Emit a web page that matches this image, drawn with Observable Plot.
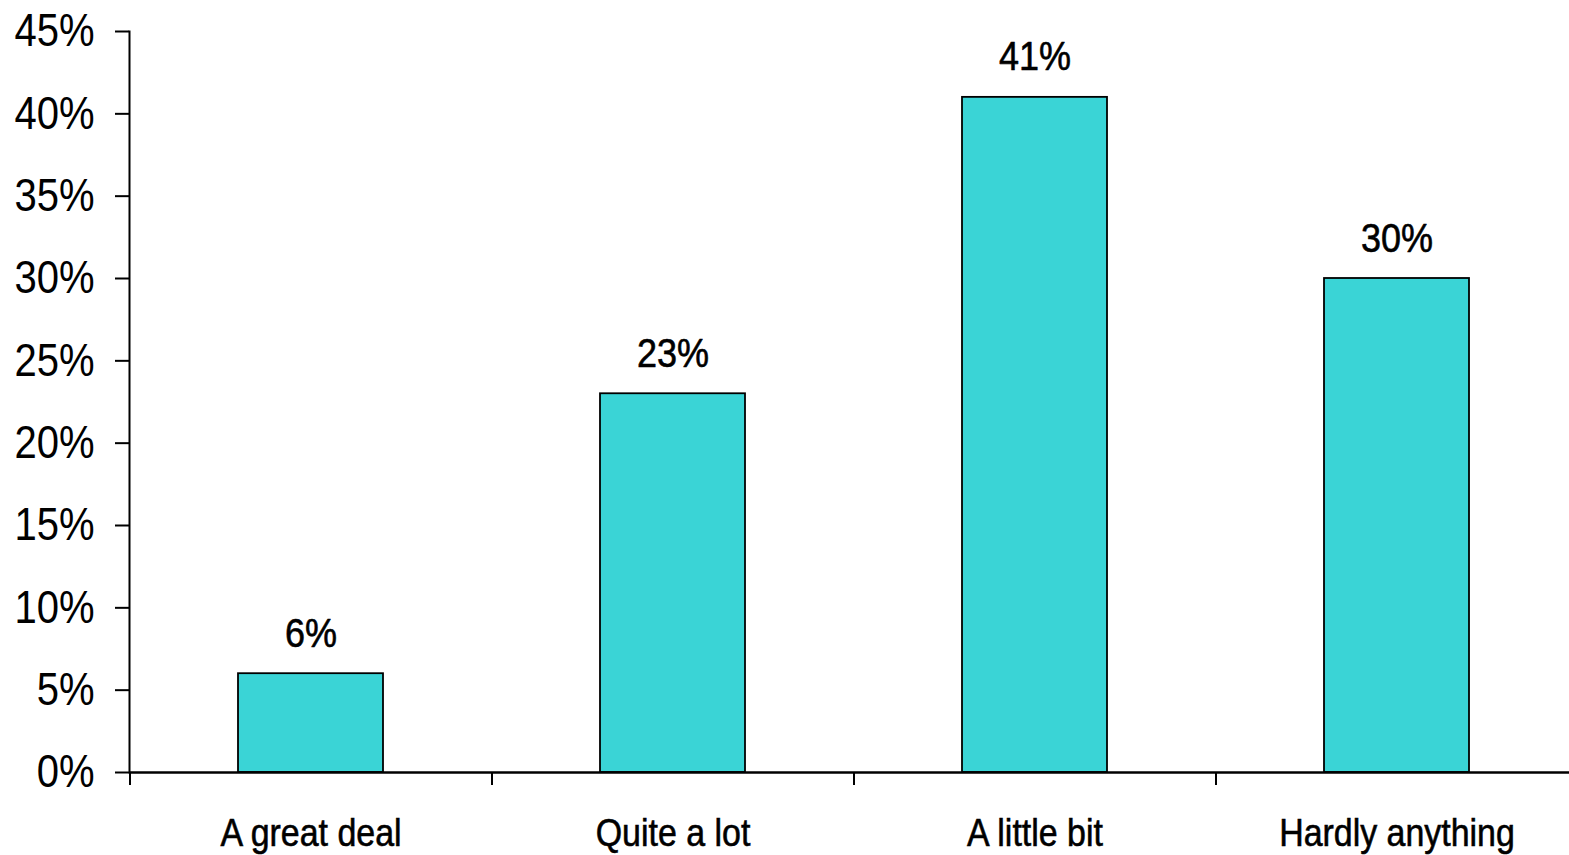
<!DOCTYPE html>
<html>
<head>
<meta charset="utf-8">
<script src="https://cdn.jsdelivr.net/npm/d3@7"></script>
<script src="https://cdn.jsdelivr.net/npm/@observablehq/plot@0.6"></script>
<style>
  html, body { margin: 0; padding: 0; background: #fff; }
  #chart svg { display: block; }
</style>
</head>
<body>
<div id="chart"></div>
<script>
const categories = ["A great deal", "Quite a lot", "A little bit", "Hardly anything"];
const values = [6, 23, 41, 30];
const yTicks = [0, 5, 10, 15, 20, 25, 30, 35, 40, 45];

const data = categories.map((c, i) => ({category: c, value: values[i]}));

const W = 1569, H = 855;
const left = 129, right = 1577;
const step = (right - left) / categories.length;
const font = "'Liberation Sans Narrow', 'Arial Narrow', 'Liberation Sans', Arial, sans-serif";

const chart = Plot.plot({
  width: W,
  height: H,
  marginLeft: left,
  marginRight: 0,
  marginTop: 31,
  marginBottom: 83,
  style: {fontFamily: font, background: "#fff", color: "#000", overflow: "visible"},
  x: {domain: categories, range: [left, right], paddingInner: 0.6, paddingOuter: 0.3, align: 0.5, label: null},
  y: {domain: [0, 45], label: null},
  marks: [
    Plot.barY(data, {x: "category", y: "value", fill: "#3AD4D6", stroke: "#000", strokeWidth: 1.8}),
    Plot.text(data, {x: "category", y: "value", text: d => d.value + "%", lineAnchor: "bottom", dy: -27, fontSize: 40, fill: "#000", stroke: "#000", strokeWidth: 0.6, className: "narrow-data"}),
    Plot.axisY({ticks: yTicks, tickFormat: d => d + "%", tickSize: 14, tickPadding: 21, fontSize: 46, stroke: "#000", strokeWidth: 2, label: null, className: "narrow-y"}),
    Plot.axisX({tickSize: 0, tickPadding: 46, fontSize: 39, label: null, className: "narrow-x"}),
    Plot.ruleX(categories, {x: d => d, dx: -step / 2, y1: 0, y2: 0, insetBottom: -13, stroke: "#000", strokeWidth: 2}),
    Plot.ruleY([0], {stroke: "#000", strokeWidth: 2.5}),
    Plot.frame({anchor: "left", stroke: "#000", strokeWidth: 2})
  ]
});

// horizontally condense text (narrow typeface look)
function condense(sel, s, extraStroke) {
  chart.querySelectorAll(sel).forEach(t => {
    const tr = t.getAttribute("transform");
    if (tr) {
      t.setAttribute("transform", tr + ` scale(${s},1)`);
    } else {
      const x = +t.getAttribute("x") || 0, y = +t.getAttribute("y") || 0;
      t.setAttribute("transform", `translate(${x},${y}) scale(${s},1) translate(${-x},${-y})`);
    }
    if (extraStroke) {
      t.setAttribute("stroke", "#000");
      t.setAttribute("stroke-width", extraStroke);
    }
  });
}
condense(".narrow-y text", 0.87, null);
condense(".narrow-x text", 0.87, 0.6);
condense(".narrow-data text", 0.9, null);

document.getElementById("chart").appendChild(chart);
</script>
</body>
</html>
